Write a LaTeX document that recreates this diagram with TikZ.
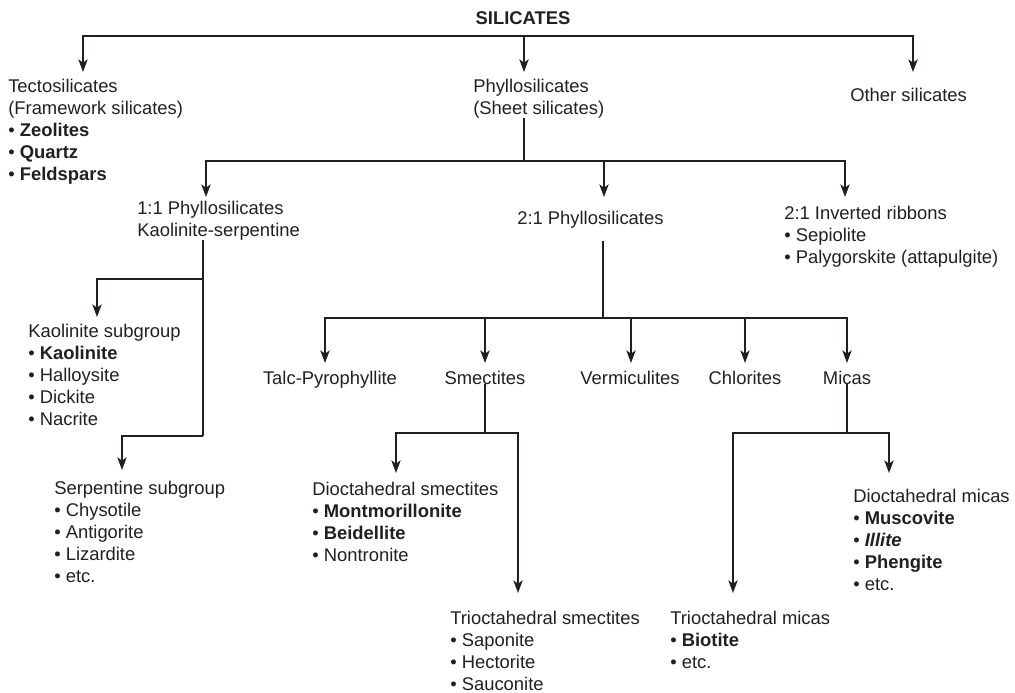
\documentclass[tikz,border=0pt]{standalone}
\usepackage{fontspec}
\setmainfont{Liberation Sans}
\usetikzlibrary{arrows.meta}
\definecolor{ink}{RGB}{35,31,32}
\begin{document}
\begin{tikzpicture}[x=0.75pt,y=-0.75pt,
  lbl/.style={inner sep=0pt, anchor=base west, align=left, font=\fontsize{13.8}{16.5}\selectfont, text=ink},
  clbl/.style={lbl, anchor=base},
  conn/.style={draw=ink, line width=1pt},
  arr/.style={conn, -{Stealth[length=9.5pt,width=7pt,inset=2.5pt]}}
]
\useasboundingbox (0,0) rectangle (1015,693);

% nodes (base anchor = baseline of the last line)
\node[clbl, font=\fontsize{13.8}{16.5}\selectfont\bfseries] (sil) at (523,24) {SILICATES};
\node[lbl] (tecto) at (8,180) {Tectosilicates\\(Framework silicates)\\• \textbf{Zeolites}\\• \textbf{Quartz}\\• \textbf{Feldspars}};
\node[lbl] (phyl) at (473,114) {Phyllosilicates\\(Sheet silicates)};
\node[lbl] (other) at (850,101) {Other silicates};
\node[lbl] (k11) at (137,236) {1:1 Phyllosilicates\\Kaolinite-serpentine};
\node[lbl] (k21) at (517,224) {2:1 Phyllosilicates};
\node[lbl] (inv) at (784,263) {2:1 Inverted ribbons\\• Sepiolite\\• Palygorskite (attapulgite)};
\node[lbl] (kaol) at (28,425) {Kaolinite subgroup\\• \textbf{Kaolinite}\\• Halloysite\\• Dickite\\• Nacrite};
\node[lbl] (serp) at (54,582) {Serpentine subgroup\\• Chysotile\\• Antigorite\\• Lizardite\\• etc.};
\node[clbl] (talc) at (330,384) {Talc-Pyrophyllite};
\node[clbl] (smec) at (485,384) {Smectites};
\node[clbl] (verm) at (630,384) {Vermiculites};
\node[clbl] (chlo) at (745,384) {Chlorites};
\node[clbl] (mica) at (847,384) {Micas};
\node[lbl] (dsm) at (312,561) {Dioctahedral smectites\\• \textbf{Montmorillonite}\\• \textbf{Beidellite}\\• Nontronite};
\node[lbl] (tsm) at (450,690) {Trioctahedral smectites\\• Saponite\\• Hectorite\\• Sauconite};
\node[lbl] (dmi) at (853,590) {Dioctahedral micas\\• \textbf{Muscovite}\\• \textbf{\textit{Illite}}\\• \textbf{Phengite}\\• etc.};
\node[lbl] (tmi) at (670,668) {Trioctahedral micas\\• \textbf{Biotite}\\• etc.};

% junctions and arrow tips
\coordinate (j1) at (524,36);
\coordinate (t-tecto) at (83,72);
\coordinate (t-phyl) at (524,72);
\coordinate (t-other) at (913,72);
\coordinate (j2) at (524,161);
\coordinate (t-k11) at (206,197);
\coordinate (t-k21) at (604,197);
\coordinate (t-inv) at (845,197);
\coordinate (j3) at (203,279);
\coordinate (j4) at (203,436);
\coordinate (t-kaol) at (97,317);
\coordinate (t-serp) at (122,470);
\coordinate (j5) at (603,318);
\coordinate (t-talc) at (325,363);
\coordinate (t-smec) at (485,363);
\coordinate (t-verm) at (631,363);
\coordinate (t-chlo) at (745,363);
\coordinate (t-mica) at (847,363);
\coordinate (j6) at (485,433);
\coordinate (t-dsm) at (396,473);
\coordinate (t-tsm) at (518,593);
\coordinate (j7) at (847,433);
\coordinate (t-tmi) at (733,593);
\coordinate (t-dmi) at (889,473);

% level 1
\draw[arr] (j1) -| (t-tecto);
\draw[arr] (j1) -- (t-phyl);
\draw[arr] (j1) -| (t-other);
% level 2
\draw[conn] (phyl.south -| j2) -- (j2);
\draw[arr] (j2) -| (t-k11);
\draw[arr] (j2) -| (t-k21);
\draw[arr] (j2) -| (t-inv);
% 1:1
\draw[conn] (k11.south -| j3) -- (j4);
\draw[arr] (j3) -| (t-kaol);
\draw[arr] (j4) -| (t-serp);
% 2:1
\draw[conn, shorten <=10pt] (k21.south -| j5) -- (j5);
\draw[arr] (j5) -| (t-talc);
\draw[arr] (j5) -| (t-smec);
\draw[arr] (j5) -| (t-verm);
\draw[arr] (j5) -| (t-chlo);
\draw[arr] (j5) -| (t-mica);
% smectites
\draw[conn] (smec.south -| j6) -- (j6);
\draw[arr] (j6) -| (t-dsm);
\draw[arr] (j6) -| (t-tsm);
% micas
\draw[conn] (mica.south -| j7) -- (j7);
\draw[arr] (j7) -| (t-tmi);
\draw[arr] (j7) -| (t-dmi);
\end{tikzpicture}
\end{document}
